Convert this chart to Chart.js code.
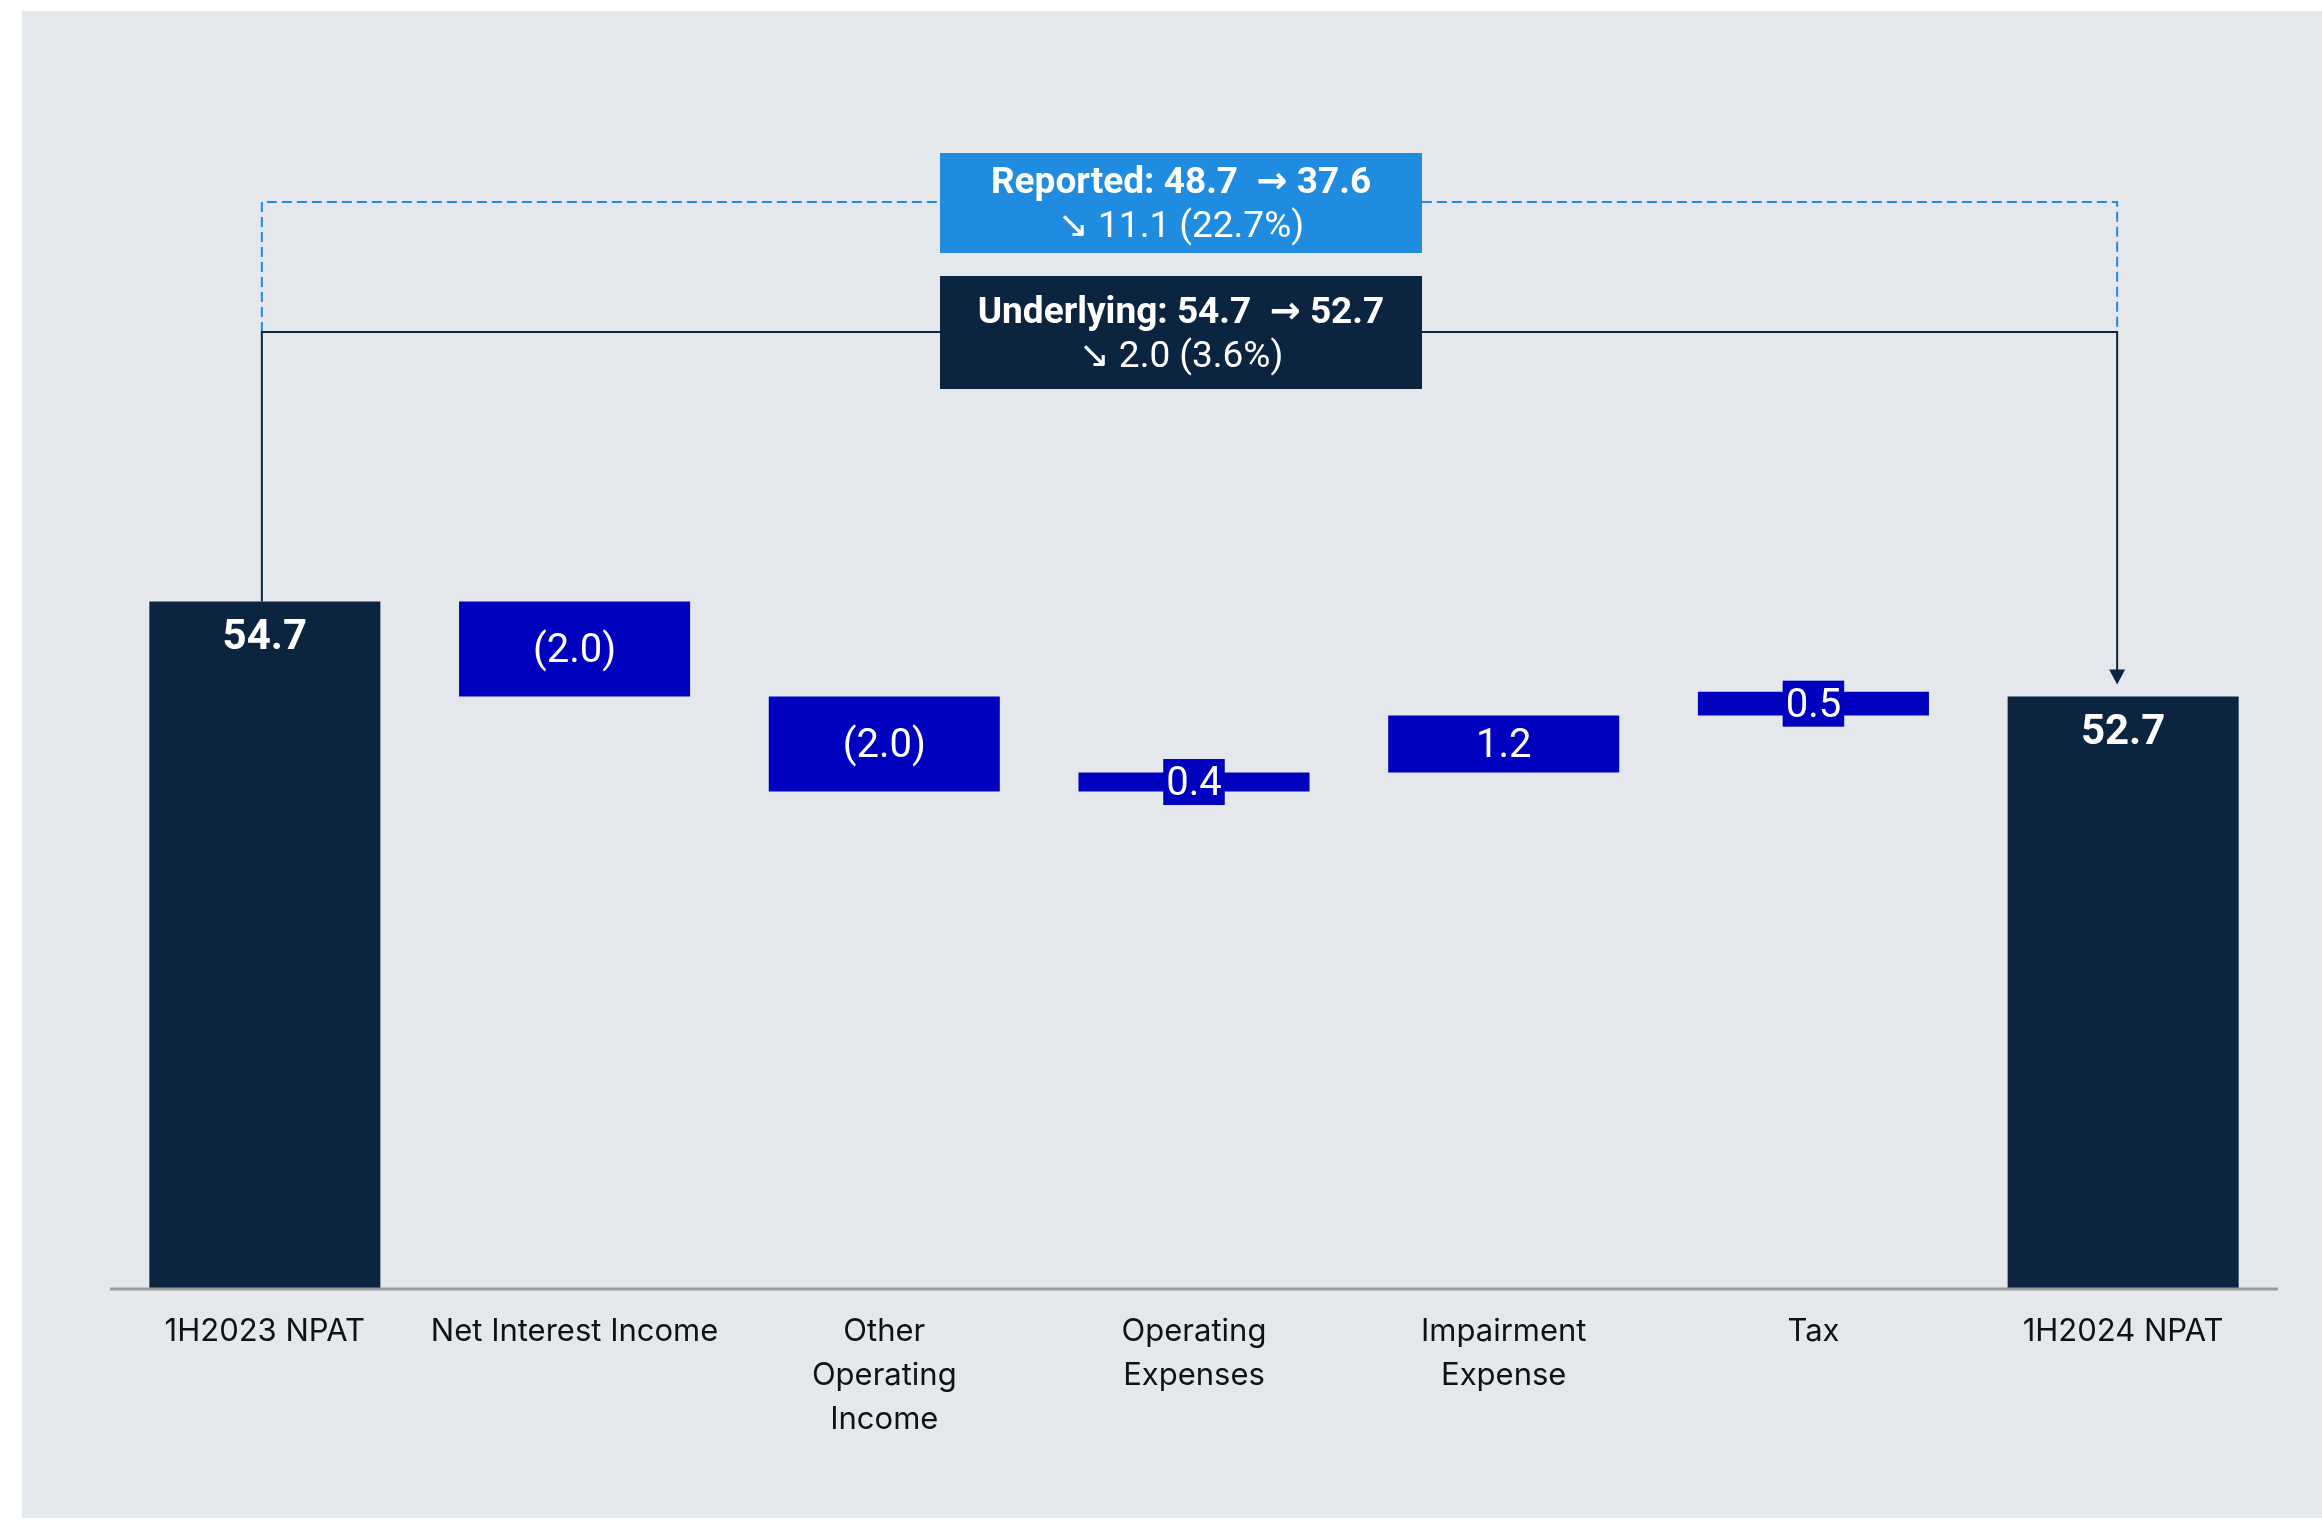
<!DOCTYPE html>
<html>
<head>
<meta charset="utf-8">
<script src="https://cdn.jsdelivr.net/npm/chart.js@4.4.1/dist/chart.umd.min.js"></script>
<style>
  html,body{margin:0;background:#fff}
  canvas{display:block}
</style>
</head>
<body>
<canvas id="wf" width="2322" height="1522"></canvas>
<script>
// categories along the x axis (multi-line where the picture wraps)
const categories = [
  "1H2023 NPAT",
  "Net Interest Income",
  ["Other", "Operating", "Income"],
  ["Operating", "Expenses"],
  ["Impairment", "Expense"],
  "Tax",
  "1H2024 NPAT"
];
const startNpat = 54.7;
const endNpat = 52.7;
const steps = [-2.0, -2.0, 0.4, 1.2, 0.5];
const axisRange = [40.2, 60];

// summary boxes: from, to, change, change %
const reported = [48.7, 37.6, 11.1, 22.7];
const underlying = [54.7, 52.7, 2.0, 3.6];

const NAVY = "#0b2541", BLUE = "#0000bf", SKY = "#208ce0";

const ranges = [[axisRange[0], startNpat]];
let lvl = startNpat;
steps.forEach(s => {
  ranges.push([Math.min(lvl, lvl+s), Math.max(lvl, lvl+s)]);
  lvl += s;
});
ranges.push([axisRange[0], endNpat]);
const colors = ranges.map((_, i) => (i === 0 || i === ranges.length-1) ? NAVY : BLUE);
const valueText = [startNpat.toFixed(1),
  ...steps.map(s => s < 0 ? `(${Math.abs(s).toFixed(1)})` : s.toFixed(1)),
  endNpat.toFixed(1)];

const decor = {
  id: "decor",
  beforeDraw(chart) {
    const c = chart.ctx;
    c.save();
    c.fillStyle = "#e4e8ec";
    c.fillRect(22, 11, 2300, 1507);
    c.restore();
  },
  afterDatasetsDraw(chart) {
    const c = chart.ctx, area = chart.chartArea;
    const bars = chart.getDatasetMeta(0).data;
    c.save();

    // axis line over the bars
    c.strokeStyle = "#9a9a9a"; c.lineWidth = 3;
    c.beginPath(); c.moveTo(area.left, area.bottom - 1); c.lineTo(area.right, area.bottom - 1); c.stroke();

    // value labels
    c.textAlign = "center"; c.textBaseline = "middle";
    bars.forEach((b, i) => {
      const total = i === 0 || i === bars.length-1;
      const top = Math.min(b.y, b.base), bot = Math.max(b.y, b.base);
      if (total) {
        c.font = "bold 42px Roboto, 'DejaVu Sans'";
        c.fillStyle = "#fff";
        c.fillText(valueText[i], b.x, top + 37);
        return;
      }
      const mid = (top + bot) / 2;
      c.font = "40px Roboto, 'DejaVu Sans'";
      if (bot - top < 50) {
        const w = c.measureText(valueText[i]).width + 6;
        c.fillStyle = BLUE;
        c.fillRect(b.x - w/2, mid - 23, w, 46);
      }
      c.fillStyle = "#fff";
      c.fillText(valueText[i], b.x, mid + 3);
    });

    // brackets
    const first = bars[0], last = bars[bars.length-1];
    const xl = first.x - 3, xr = last.x - 6;
    const yRep = 202, yUnd = 332;
    c.strokeStyle = SKY; c.lineWidth = 2; c.setLineDash([10, 5]);
    c.beginPath();
    c.moveTo(xl, yUnd); c.lineTo(xl, yRep); c.lineTo(xr, yRep); c.lineTo(xr, yUnd);
    c.stroke();
    c.setLineDash([]);
    c.strokeStyle = NAVY; c.fillStyle = NAVY;
    const tip = Math.min(last.y, last.base) - 12;
    c.beginPath();
    c.moveTo(xl, Math.min(first.y, first.base)); c.lineTo(xl, yUnd); c.lineTo(xr, yUnd); c.lineTo(xr, tip - 14);
    c.stroke();
    c.beginPath();
    c.moveTo(xr - 8, tip - 15); c.lineTo(xr + 8, tip - 15); c.lineTo(xr, tip); c.closePath(); c.fill();

    // summary boxes
    const bx = 940, bw = 482, cx = bx + bw/2;
    const box = (y, h, fill, vals, name, dy) => {
      c.fillStyle = fill; c.fillRect(bx, y, bw, h);
      c.fillStyle = "#fff";
      c.font = "bold 37px Roboto, 'DejaVu Sans'";
      c.fillText(`${name}: ${vals[0].toFixed(1)}  \u2192 ${vals[1].toFixed(1)}`, cx, y + dy);
      c.font = "37px Roboto, 'DejaVu Sans'";
      c.fillText(`\u2198 ${vals[2].toFixed(1)} (${vals[3].toFixed(1)}%)`, cx, y + dy + 44);
    };
    box(153, 100, SKY, reported, "Reported", 31);
    box(276, 113, NAVY, underlying, "Underlying", 38);
    c.restore();
  }
};

new Chart(document.getElementById("wf"), {
  type: "bar",
  data: {
    labels: categories,
    datasets: [{
      data: ranges,
      backgroundColor: colors,
      borderWidth: 0,
      categoryPercentage: 1,
      barPercentage: 0.746
    }]
  },
  options: {
    responsive: false,
    animation: false,
    devicePixelRatio: 1,
    layout: { padding: { left: 110, right: 44, top: 350, bottom: 32 } },
    plugins: { legend: { display: false }, tooltip: { enabled: false } },
    scales: {
      x: {
        grid: { display: false, drawTicks: false },
        border: { display: false },
        afterFit(scale) { scale.height = 200; },
        ticks: {
          autoSkip: false, maxRotation: 0, padding: 20,
          color: "#111",
          font: { family: "Inter, Roboto, sans-serif", size: 31, lineHeight: 1.42 }
        }
      },
      y: { display: false, min: axisRange[0], max: axisRange[1] }
    }
  },
  plugins: [decor]
});
</script>
</body>
</html>
